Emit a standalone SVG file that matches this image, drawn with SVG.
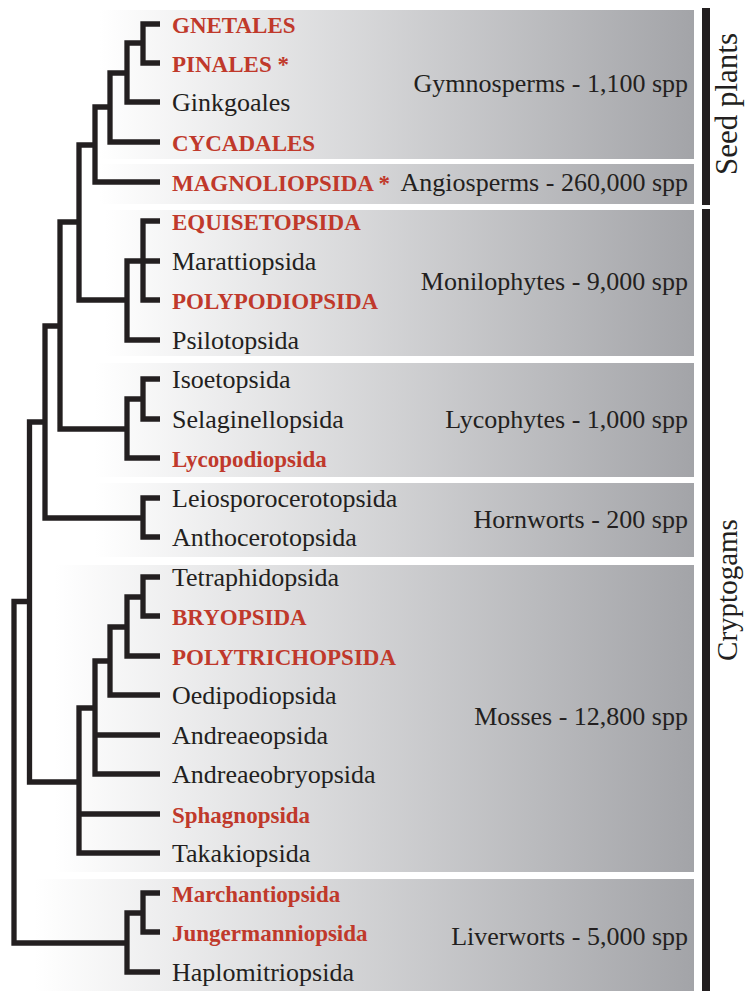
<svg xmlns="http://www.w3.org/2000/svg" width="749" height="991" viewBox="0 0 749 991">
<defs>
<linearGradient id="bg" x1="0" y1="0" x2="1" y2="0">
<stop offset="0" stop-color="#ffffff"/>
<stop offset="1" stop-color="#a3a4a8"/>
</linearGradient>
<style>
.box{fill:url(#bg)}
.t{font-family:"Liberation Serif","Times New Roman",serif;font-size:26px;fill:#231f20}
.r{font-family:"Liberation Serif","Times New Roman",serif;font-size:23px;font-weight:bold;fill:#c0392b}
.g{font-family:"Liberation Serif","Times New Roman",serif;font-size:26px;fill:#231f20;text-anchor:end}
.side{font-family:"Liberation Serif","Times New Roman",serif;font-size:29px;fill:#231f20;text-anchor:middle}
.br{fill:none;stroke:#231f20;stroke-width:5.3;stroke-linejoin:miter;stroke-linecap:butt}
.bar{fill:#231f20}
</style>
</defs>
<rect width="749" height="991" fill="#ffffff"/>
<g id="clades">
<g id="gymnosperms"><rect class="box" x="100" y="10" width="594" height="149"/><text class="g" x="688" y="92">Gymnosperms - 1,100 spp</text></g>
<g id="angiosperms"><rect class="box" x="100" y="164" width="594" height="40"/><text class="g" x="688" y="191">Angiosperms - 260,000 spp</text></g>
<g id="monilophytes"><rect class="box" x="105" y="210" width="589" height="146"/><text class="g" x="688" y="290">Monilophytes - 9,000 spp</text></g>
<g id="lycophytes"><rect class="box" x="95" y="363" width="599" height="114"/><text class="g" x="688" y="428">Lycophytes - 1,000 spp</text></g>
<g id="hornworts"><rect class="box" x="95" y="483" width="599" height="74"/><text class="g" x="688" y="528">Hornworts - 200 spp</text></g>
<g id="mosses"><rect class="box" x="55" y="565" width="639" height="307"/><text class="g" x="688" y="725">Mosses - 12,800 spp</text></g>
<g id="liverworts"><rect class="box" x="35" y="879" width="659" height="112"/><text class="g" x="688" y="945">Liverworts - 5,000 spp</text></g>
</g>
<g id="side-groups">
<g id="seed-plants"><rect class="bar" x="702" y="8" width="8" height="197"/><text class="side" transform="translate(737,104) rotate(-90)" style="font-size:31px">Seed plants</text></g>
<g id="cryptogams"><rect class="bar" x="702" y="209" width="8" height="782"/><text class="side" transform="translate(737,590) rotate(-90)">Cryptogams</text></g>
</g>
<g id="connectors">
<path class="br" d="M160 24H143V63H160 M143 43H127V102H160 M127 73H110V142H160 M110 107H95V182H160 M95 145H79V300H127 M160 221H143V300H160 M143 261H160 M143 261H127V340H160 M79 222H60V429H127 M160 379H143V419H160 M143 399H127V458H160 M60 326H45V518H143 M160 498H143V537H160 M45 422H29.5V782H79 M160 577H143V616H160 M143 597H127V656H160 M127 627H110V695H160 M110 661H95V774H160 M95 735H160 M95 708H79V853H160 M79 814H160 M29.5 601.5H14V943H127 M160 893H143V932H160 M143 913H127V972H160"/>
</g>
<g id="taxa">
<g id="gnetales"><text class="r" x="172" y="33">GNETALES</text></g>
<g id="pinales"><text class="r" x="172" y="72">PINALES *</text></g>
<g id="ginkgoales"><text class="t" x="172" y="111">Ginkgoales</text></g>
<g id="cycadales"><text class="r" x="172" y="151">CYCADALES</text></g>
<g id="magnoliopsida"><text class="r" x="172" y="191">MAGNOLIOPSIDA *</text></g>
<g id="equisetopsida"><text class="r" x="172" y="230">EQUISETOPSIDA</text></g>
<g id="marattiopsida"><text class="t" x="172" y="270">Marattiopsida</text></g>
<g id="polypodiopsida"><text class="r" x="172" y="309">POLYPODIOPSIDA</text></g>
<g id="psilotopsida"><text class="t" x="172" y="349">Psilotopsida</text></g>
<g id="isoetopsida"><text class="t" x="172" y="388">Isoetopsida</text></g>
<g id="selaginellopsida"><text class="t" x="172" y="428">Selaginellopsida</text></g>
<g id="lycopodiopsida"><text class="r" x="172" y="467">Lycopodiopsida</text></g>
<g id="leiosporocerotopsida"><text class="t" x="172" y="507">Leiosporocerotopsida</text></g>
<g id="anthocerotopsida"><text class="t" x="172" y="546">Anthocerotopsida</text></g>
<g id="tetraphidopsida"><text class="t" x="172" y="586">Tetraphidopsida</text></g>
<g id="bryopsida"><text class="r" x="172" y="625">BRYOPSIDA</text></g>
<g id="polytrichopsida"><text class="r" x="172" y="665">POLYTRICHOPSIDA</text></g>
<g id="oedipodiopsida"><text class="t" x="172" y="704">Oedipodiopsida</text></g>
<g id="andreaeopsida"><text class="t" x="172" y="744">Andreaeopsida</text></g>
<g id="andreaeobryopsida"><text class="t" x="172" y="783">Andreaeobryopsida</text></g>
<g id="sphagnopsida"><text class="r" x="172" y="823">Sphagnopsida</text></g>
<g id="takakiopsida"><text class="t" x="172" y="862">Takakiopsida</text></g>
<g id="marchantiopsida"><text class="r" x="172" y="902">Marchantiopsida</text></g>
<g id="jungermanniopsida"><text class="r" x="172" y="941">Jungermanniopsida</text></g>
<g id="haplomitriopsida"><text class="t" x="172" y="981">Haplomitriopsida</text></g>
</g>
</svg>
